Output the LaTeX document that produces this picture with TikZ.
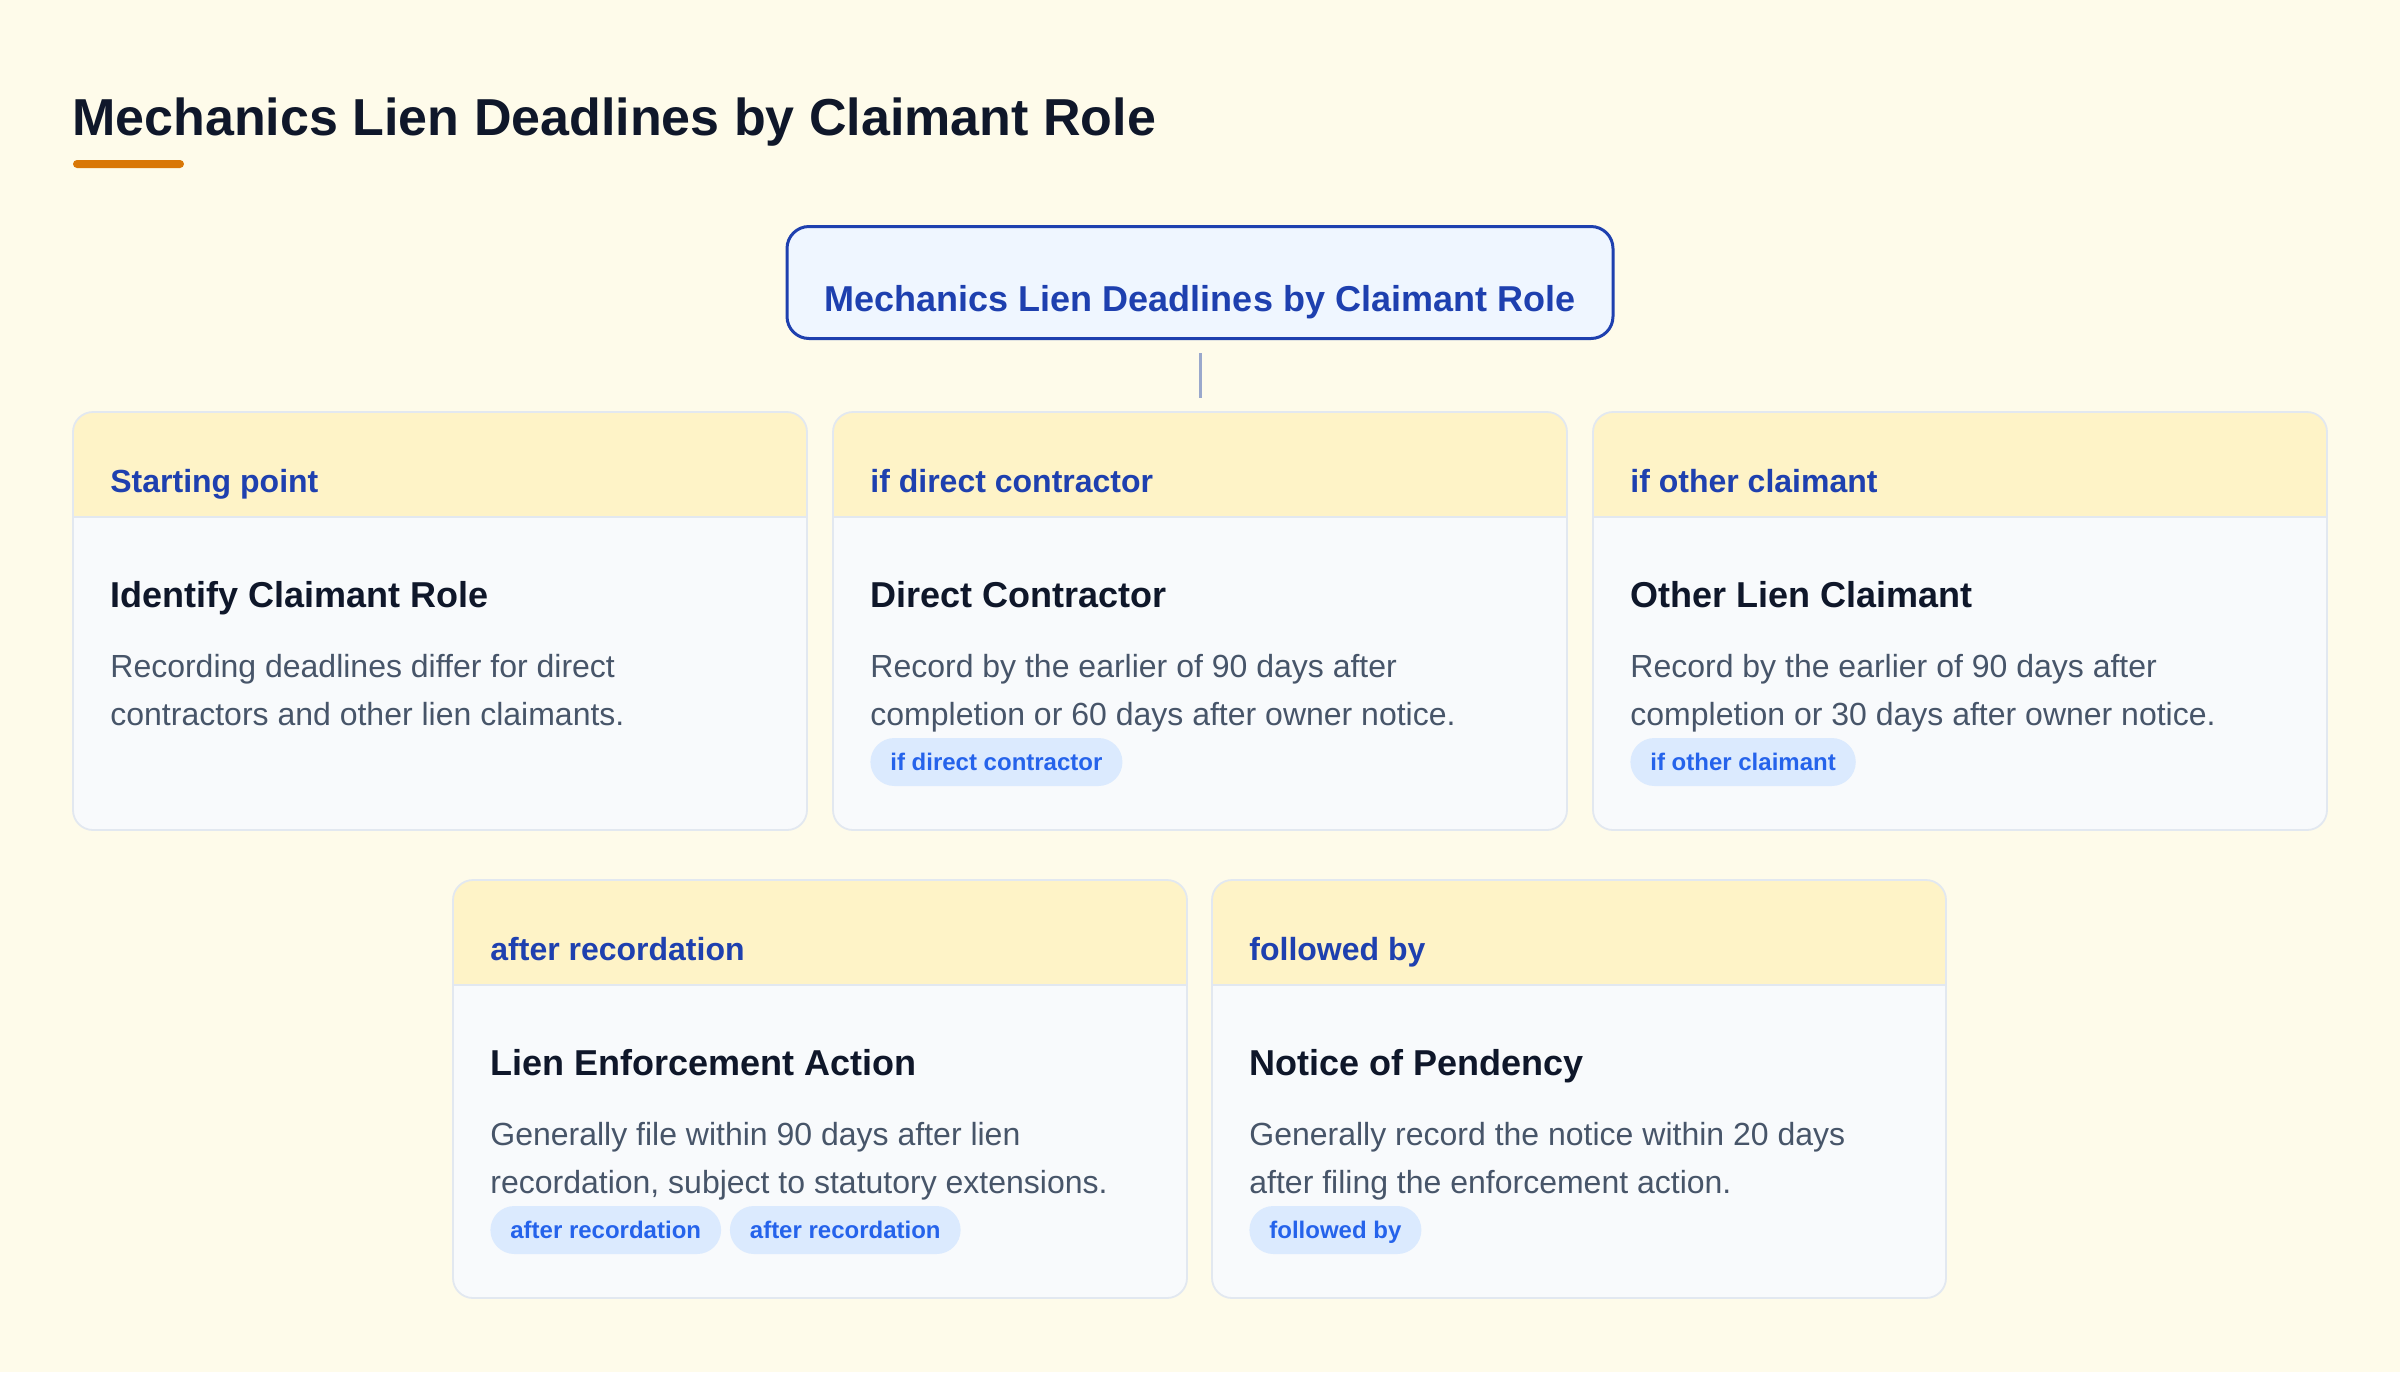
\documentclass[tikz,border=0pt]{standalone}
\usepackage{fontspec}
\setmainfont{Liberation Sans}
\definecolor{bgcol}{HTML}{FEFBEA}
\definecolor{titlecol}{HTML}{0F172A}
\definecolor{accent}{HTML}{D97706}
\definecolor{mainfill}{HTML}{EFF6FF}
\definecolor{maindraw}{HTML}{1E40AF}
\definecolor{hdrfillc}{HTML}{FEF3C7}
\definecolor{bodyfillc}{HTML}{F8FAFC}
\definecolor{bordercol}{HTML}{E2E8F0}
\definecolor{bodytextc}{HTML}{475569}
\definecolor{pillfillc}{HTML}{DBEAFE}
\definecolor{pilltextc}{HTML}{2563EB}
\definecolor{conncol}{HTML}{9AA8CC}
\tikzset{
  cardbody/.style={minimum width=367pt, minimum height=209pt, inner sep=0pt, outer sep=0pt, fill=bodyfillc, rounded corners=10pt},
  cardborder/.style={draw=bordercol, line width=0.9pt, rounded corners=10pt},
  hdrfill/.style={fill=hdrfillc},
  sepline/.style={draw=bordercol, line width=0.9pt},
  hdrtext/.style={anchor=base west, inner sep=0pt, text=maindraw, font=\bfseries\fontsize{16}{19}\selectfont},
  titletext/.style={anchor=base west, inner sep=0pt, text=titlecol, font=\bfseries\fontsize{18}{22}\selectfont},
  bodytext/.style={anchor=base west, inner sep=0pt, text=bodytextc, font=\fontsize{16}{24}\selectfont},
  pill/.style={anchor=west, fill=pillfillc, text=pilltextc, font=\bfseries\fontsize{12}{14}\selectfont, rounded corners=12pt, minimum height=24pt, inner xsep=10pt, inner ysep=0pt, text height=8.6pt, text depth=0pt},
  mainbox/.style={draw=maindraw, line width=1.5pt, fill=mainfill, rounded corners=11pt, minimum width=413pt, minimum height=56pt, inner sep=0pt, text height=29pt, text depth=0pt, text=maindraw, font=\bfseries\fontsize{18}{22}\selectfont},
  conn/.style={draw=conncol, line width=1.5pt}
}
\newcommand\mkcard[7]{%
  \node[cardbody, anchor=north west] (#1) at (#2,#3) {};
  \begin{scope}
    \clip[rounded corners=10pt] (#1.north west) rectangle (#1.south east);
    \fill[hdrfill] (#1.north west) rectangle ([yshift=-52.5pt]#1.north east);
  \end{scope}
  \draw[sepline] ([yshift=-52.5pt]#1.north west) -- ([yshift=-52.5pt]#1.north east);
  \draw[cardborder] (#1.north west) rectangle (#1.south east);
  \node[hdrtext] (#1-h) at ([xshift=18.5pt,yshift=-40pt]#1.north west) {#4};
  \node[titletext] (#1-t) at ([xshift=18.5pt,yshift=-97.5pt]#1.north west) {#5};
  \node[bodytext] (#1-b1) at ([xshift=18.5pt,yshift=-132.5pt]#1.north west) {#6};
  \node[bodytext] (#1-b2) at ([xshift=18.5pt,yshift=-156.5pt]#1.north west) {#7};
}
\begin{document}
\begin{tikzpicture}[x=0.5pt,y=-0.5pt]
\fill[bgcol] (0,0) rectangle (2400,1372);
\useasboundingbox (0,0) rectangle (2400,1372);
% title
\node[anchor=base west, inner sep=0pt, text=titlecol, font=\bfseries\fontsize{26}{30}\selectfont] (title) at (72,135) {Mechanics Lien Deadlines by Claimant Role};
\fill[accent, rounded corners=2pt] (73,160) rectangle (184,168);
% main box
\node[mainbox, anchor=north] (main) at (1200,225) {Mechanics Lien Deadlines by Claimant Role};
% cards
\mkcard{c1}{73}{412}{Starting point}{Identify Claimant Role}{Recording deadlines differ for direct}{contractors and other lien claimants.}
\mkcard{c2}{833}{412}{if direct contractor}{Direct Contractor}{Record by the earlier of 90 days after}{completion or 60 days after owner notice.}
\mkcard{c3}{1593}{412}{if other claimant}{Other Lien Claimant}{Record by the earlier of 90 days after}{completion or 30 days after owner notice.}
\mkcard{c4}{453}{880}{after recordation}{Lien Enforcement Action}{Generally file within 90 days after lien}{recordation, subject to statutory extensions.}
\mkcard{c5}{1212}{880}{followed by}{Notice of Pendency}{Generally record the notice within 20 days}{after filing the enforcement action.}
% pills
\node[pill] (c2-p1) at ([xshift=18.5pt,yshift=-175pt]c2.north west) {if direct contractor};
\node[pill] (c3-p1) at ([xshift=18.5pt,yshift=-175pt]c3.north west) {if other claimant};
\node[pill] (c4-p1) at ([xshift=18.5pt,yshift=-175pt]c4.north west) {after recordation};
\node[pill] (c4-p2) at ([xshift=4pt]c4-p1.east) {after recordation};
\node[pill] (c5-p1) at ([xshift=18.5pt,yshift=-175pt]c5.north west) {followed by};
% connector
\draw[conn] ([yshift=-6.5pt]main.south) -- ([yshift=7pt]c2.north);
\end{tikzpicture}
\end{document}
